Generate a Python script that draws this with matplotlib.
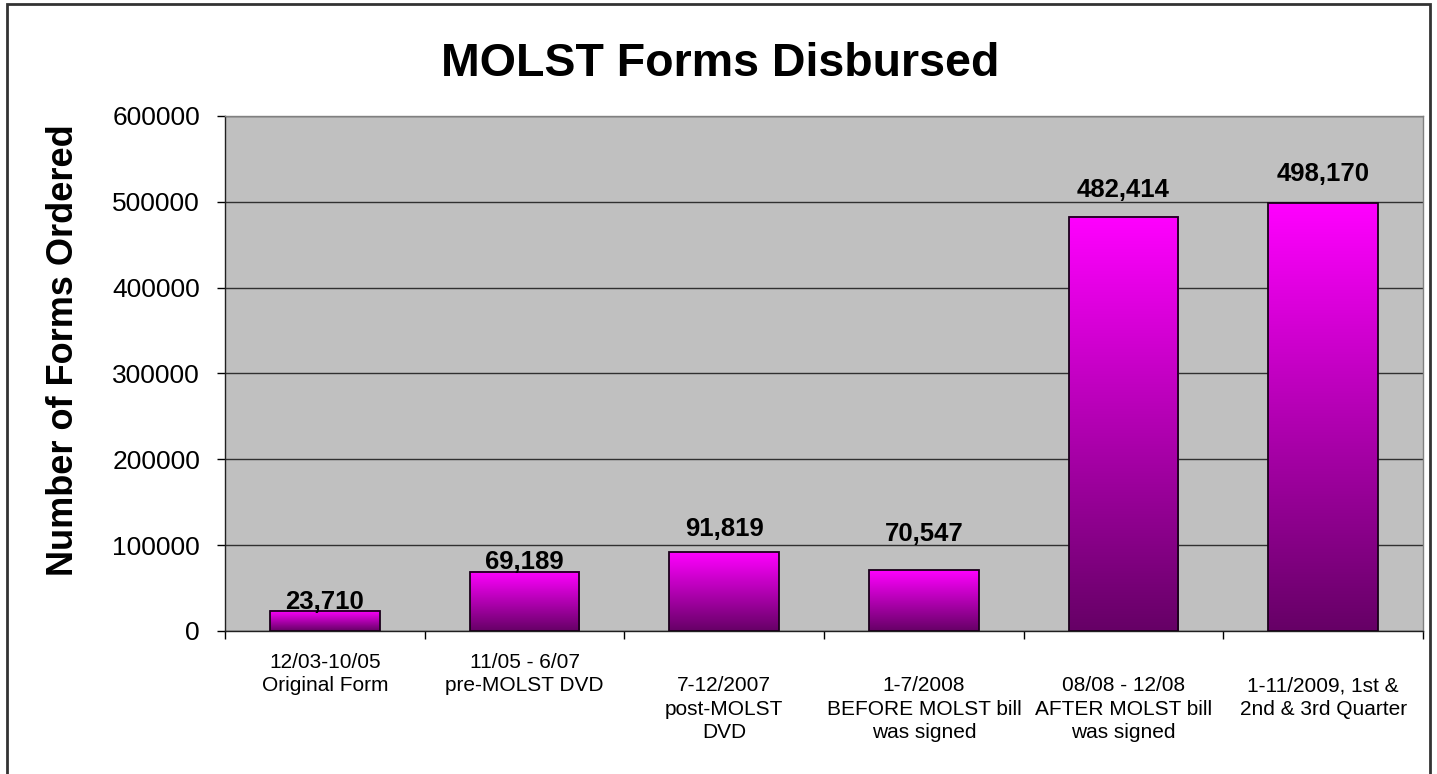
import numpy as np
import matplotlib
matplotlib.use("Agg")
import matplotlib.pyplot as plt
from matplotlib.colors import LinearSegmentedColormap
from matplotlib.patches import Rectangle

plt.rcParams['font.family'] = ['Liberation Sans', 'DejaVu Sans']

categories = [
    "12/03-10/05\nOriginal Form",
    "11/05 - 6/07\npre-MOLST DVD",
    "\n7-12/2007\npost-MOLST\nDVD",
    "\n1-7/2008\nBEFORE MOLST bill\nwas signed",
    "\n08/08 - 12/08\nAFTER MOLST bill\nwas signed",
    "\n1-11/2009, 1st &\n2nd & 3rd Quarter",
]
forms = [23710, 69189, 91819, 70547, 482414, 498170]
yticks = [0, 100000, 200000, 300000, 400000, 500000, 600000]

# label gap above each bar (points), as placed in the original
label_gap = [1.5, 2.2, 11.5, 21, 14.5, 16]

fig = plt.figure(figsize=(14.37, 7.74), dpi=100)
ax = fig.add_axes([0.1566, 0.1848, 0.8337, 0.6654])
ax.set_facecolor('#C0C0C0')

x = np.arange(len(forms))
width = 0.55
cmap = LinearSegmentedColormap.from_list('mag', ['#660066', '#FF00FF'])
grad = np.linspace(0, 1, 256).reshape(-1, 1)

bars = ax.bar(x, forms, width=width, facecolor='none', edgecolor='#1a001a',
              linewidth=1.3, zorder=4)
for b in bars:
    x0, y0 = b.get_x(), b.get_y()
    ax.imshow(grad, cmap=cmap, origin='lower', aspect='auto',
              extent=[x0, x0 + b.get_width(), y0, y0 + b.get_height()],
              zorder=3, interpolation='bilinear')
ax.set_xlim(-0.5, len(forms) - 0.5)
ax.set_ylim(0, 600000)

for xi, v, g in zip(x, forms, label_gap):
    ax.annotate(f"{v:,}", (xi, v), xytext=(0, g), textcoords='offset points',
                ha='center', va='baseline', fontsize=18.5, fontweight='bold',
                color='#000000', zorder=5)

ax.set_yticks(yticks)
ax.set_yticklabels([str(t) for t in yticks], fontsize=19)
ax.yaxis.grid(True, color='#303030', linewidth=1)
ax.set_axisbelow(True)
ax.tick_params(axis='y', direction='out', length=6, width=1, pad=12, colors='#000000')

ax.set_xticks(x)
ax.set_xticklabels(categories, fontsize=15, linespacing=1.28, va='top')
ax.tick_params(axis='x', which='major', length=0, pad=16)
ax.set_xticks(np.arange(len(forms) + 1) - 0.5, minor=True)
ax.tick_params(axis='x', which='minor', direction='out', length=6, width=1)

for s in ['left', 'bottom']:
    ax.spines[s].set_color('#202020')
    ax.spines[s].set_linewidth(1)
for s in ['top', 'right']:
    ax.spines[s].set_color('#808080')
    ax.spines[s].set_linewidth(1)

ax.set_ylabel("Number of Forms Ordered", fontsize=26, fontweight='bold', va='center')
ax.yaxis.set_label_coords(-0.135, 0.546)

fig.text(0.5 * (443 + 997) / 1437, 1 - 64 / 774, "MOLST Forms Disbursed",
         ha='center', va='center', fontsize=33.5, fontweight='bold')

fig.patches.append(Rectangle((7 / 1437, -0.02), (1430 - 7) / 1437, 1.02 - 4 / 774,
                             transform=fig.transFigure, fill=False,
                             edgecolor='#333333', linewidth=2))

fig.savefig("out.png", dpi=100)
